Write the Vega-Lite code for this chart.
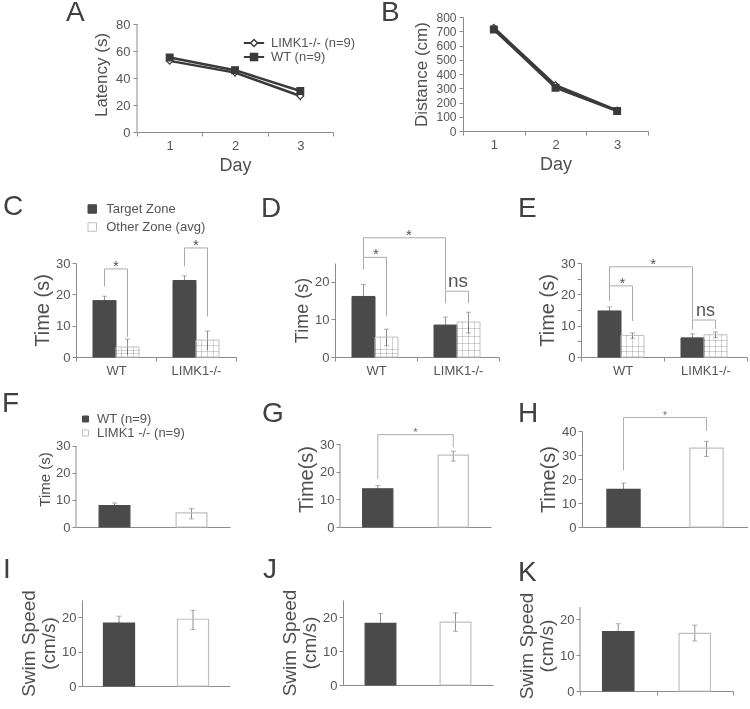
{
"$schema": "https://vega.github.io/schema/vega-lite/v6.json",
"autosize": "pad",
"padding": {"left": 2, "top": -2, "right": 0, "bottom": 0},
"background": "white",
"config": {
  "view": {"stroke": null},
  "font": "Liberation Sans",
  "axis": {"domainColor": "#8c8c8c", "tickColor": "#8c8c8c", "labelColor": "#555555", "titleColor": "#4f4f4f", "labelFontSize": 13, "titleFontWeight": "normal", "titleFontSize": 20, "grid": false, "tickSize": 4, "labelPadding": 2, "titlePadding": 3, "labelOverlap": false, "labelFont": "Liberation Sans", "titleFont": "Liberation Sans"},
  "axisX": {"labelAngle": 0, "labelPadding": 3},
  "text": {"font": "Liberation Sans"},
  "legend": {"title": null, "labelFontSize": 13, "labelColor": "#555555", "symbolStrokeColor": "#9a9a9a", "symbolStrokeWidth": 1, "symbolType": "square", "padding": 0, "labelFont": "Liberation Sans"}
},
"resolve": {"scale": {"fill": "independent", "stroke": "independent", "shape": "independent", "color": "independent"}, "legend": {"fill": "independent", "stroke": "independent", "shape": "independent", "color": "independent"}},
"spacing": 0,
"vconcat": [
  {"bounds": "flush", "spacing": 0,
   "resolve": {"scale": {"fill": "independent", "stroke": "independent", "shape": "independent", "color": "independent"}, "legend": {"fill": "independent", "stroke": "independent", "shape": "independent", "color": "independent"}},
   "hconcat": [
    {"width": 61, "height": 1, "data": {"values": []}, "mark": "point", "encoding": {}},
    {"width": 196, "height": 115,
     "data": {"values": [
       {"day": "1", "genotype": "LIMK1-/- (n=9)", "mean": 52.7, "lo": 50.5, "hi": 55.0},
       {"day": "2", "genotype": "LIMK1-/- (n=9)", "mean": 44.0, "lo": 40.5, "hi": 47.5},
       {"day": "3", "genotype": "LIMK1-/- (n=9)", "mean": 26.7, "lo": 23.0, "hi": 30.5},
       {"day": "1", "genotype": "WT (n=9)", "mean": 55.2, "lo": 53.5, "hi": 57.0},
       {"day": "2", "genotype": "WT (n=9)", "mean": 45.8, "lo": 43.5, "hi": 48.0},
       {"day": "3", "genotype": "WT (n=9)", "mean": 30.4, "lo": 28.0, "hi": 32.5}
     ]},
     "encoding": {"x": {"field": "day", "type": "ordinal", "bandPosition": 0.5, "scale": {"type": "band", "paddingInner": 0, "paddingOuter": 0}, "axis": {"title": "Day", "tickBand": "extent", "titleFontSize": 18, "titlePadding": 4}}},
     "layer": [
       {"mark": {"type": "rule", "color": "#8c8c8c"}, "encoding": {"y": {"field": "lo", "type": "quantitative", "title": "Latency (s)", "scale": {"domain": [0, 85.2], "nice": false}, "axis": {"values": [0, 20, 40, 60, 80], "tickCount": 20, "domain": false, "titleFontSize": 17, "labelPadding": 3, "titlePadding": 5}}, "y2": {"field": "hi"}, "detail": {"field": "genotype"}}},
       {"data": {"values": [{}]}, "mark": {"type": "rule", "color": "#8c8c8c"}, "encoding": {"x": {"datum": "1", "type": "ordinal", "bandPosition": 0}, "y": {"datum": 0, "type": "quantitative"}, "y2": {"datum": 80}}},
       {"mark": {"type": "line", "strokeWidth": 2.5}, "encoding": {"y": {"field": "mean", "type": "quantitative", "title": "Latency (s)"}, "detail": {"field": "genotype"},
         "color": {"field": "genotype", "scale": {"domain": ["WT (n=9)", "LIMK1-/- (n=9)"], "range": ["#3a3a3a", "#3a3a3a"]},
           "legend": {"orient": "none", "legendX": 110.5, "legendY": 19.5, "symbolType": "M-2.9,0H2.9", "symbolSize": 49, "symbolStrokeWidth": 2, "symbolStrokeColor": "#3a3a3a", "rowPadding": 0, "labelExpr": "''"}}}},
       {"mark": {"type": "point", "filled": true, "size": 45, "strokeWidth": 1.2, "opacity": 1}, "encoding": {"y": {"field": "mean", "type": "quantitative", "title": "Latency (s)"},
         "shape": {"field": "genotype", "scale": {"domain": ["LIMK1-/- (n=9)", "WT (n=9)"], "range": ["diamond", "square"]},
           "legend": {"orient": "none", "legendX": 110.5, "legendY": 19.5, "symbolSize": 49, "labelOffset": 10.5, "rowPadding": 0, "symbolStrokeWidth": 1.5}},
         "fill": {"field": "genotype", "scale": {"domain": ["LIMK1-/- (n=9)", "WT (n=9)"], "range": ["#ffffff", "#3a3a3a"]},
           "legend": {"orient": "none", "legendX": 110.5, "legendY": 19.5, "symbolSize": 49, "labelOffset": 10.5, "rowPadding": 0, "symbolStrokeWidth": 1.5}},
         "stroke": {"field": "genotype", "scale": {"domain": ["LIMK1-/- (n=9)", "WT (n=9)"], "range": ["#3a3a3a", "#3a3a3a"]},
           "legend": {"orient": "none", "legendX": 110.5, "legendY": 19.5, "symbolSize": 49, "labelOffset": 10.5, "rowPadding": 0, "symbolStrokeWidth": 1.5}}}},
       {"data": {"values": [{"panel": "A"}]}, "mark": {"type": "text", "fontSize": 28, "color": "#404040", "align": "left", "baseline": "alphabetic", "dx": -71}, "encoding": {"x": {"datum": "1", "type": "ordinal", "bandPosition": 0}, "y": {"datum": 82.24, "type": "quantitative"}, "text": {"field": "panel"}}}
     ]},
    {"width": 130, "height": 1, "data": {"values": []}, "mark": "point", "encoding": {}},
    {"width": 185, "height": 114,
     "data": {"values": [
       {"day": "1", "genotype": "LIMK1-/-", "mean": 725, "lo": 712, "hi": 738},
       {"day": "2", "genotype": "LIMK1-/-", "mean": 322, "lo": 312, "hi": 332},
       {"day": "3", "genotype": "LIMK1-/-", "mean": 145, "lo": 138, "hi": 152},
       {"day": "1", "genotype": "WT", "mean": 712, "lo": 702, "hi": 722},
       {"day": "2", "genotype": "WT", "mean": 304, "lo": 295, "hi": 313},
       {"day": "3", "genotype": "WT", "mean": 140, "lo": 134, "hi": 146}
     ]},
     "encoding": {"x": {"field": "day", "type": "ordinal", "bandPosition": 0.5, "scale": {"type": "band", "paddingInner": 0, "paddingOuter": 0}, "axis": {"title": "Day", "tickBand": "extent", "titleFontSize": 18, "titlePadding": 4}}},
     "layer": [
       {"mark": {"type": "rule", "color": "#8c8c8c"}, "encoding": {"y": {"field": "lo", "type": "quantitative", "title": "Distance (cm)", "scale": {"domain": [0, 800], "nice": false}, "axis": {"values": [0, 100, 200, 300, 400, 500, 600, 700, 800], "tickCount": 20, "labelFontSize": 12, "titleFontSize": 17, "labelPadding": 3, "titlePadding": 5}}, "y2": {"field": "hi"}, "detail": {"field": "genotype"}}},
       {"mark": {"type": "line", "color": "#3a3a3a", "strokeWidth": 2.5}, "encoding": {"y": {"field": "mean", "type": "quantitative", "title": "Distance (cm)"}, "detail": {"field": "genotype"}}},
       {"mark": {"type": "point", "filled": true, "size": 45, "stroke": "#3a3a3a", "strokeWidth": 1.2, "opacity": 1}, "encoding": {"y": {"field": "mean", "type": "quantitative", "title": "Distance (cm)"},
         "shape": {"field": "genotype", "scale": {"domain": ["LIMK1-/-", "WT"], "range": ["diamond", "square"]}, "legend": null},
         "fill": {"field": "genotype", "scale": {"domain": ["LIMK1-/-", "WT"], "range": ["#ffffff", "#3a3a3a"]}, "legend": null}}},
       {"data": {"values": [{"panel": "B"}]}, "mark": {"type": "text", "fontSize": 28, "color": "#404040", "align": "left", "baseline": "alphabetic", "dx": -82}, "encoding": {"x": {"datum": "1", "type": "ordinal", "bandPosition": 0}, "y": {"datum": 771.9, "type": "quantitative"}, "text": {"field": "panel"}}}
     ]}
  ]},
  {"width": 1, "height": 18, "view": {"fill": "#ffffff", "stroke": null}, "data": {"values": []}, "mark": "point", "encoding": {}},
  {"bounds": "flush", "spacing": 0,
   "resolve": {"scale": {"fill": "independent", "stroke": "independent", "shape": "independent", "color": "independent"}, "legend": {"fill": "independent", "stroke": "independent", "shape": "independent", "color": "independent"}},
   "hconcat": [
    {"width": 160, "height": 94,
     "data": {"values": [
       {"grp": "WT", "zone": "Target Zone", "mean": 18.0, "lo": 16.6, "hi": 19.4},
       {"grp": "WT", "zone": "Other Zone (avg)", "mean": 3.2, "lo": 0.6, "hi": 5.7},
       {"grp": "LIMK1-/-", "zone": "Target Zone", "mean": 24.4, "lo": 23.0, "hi": 25.9},
       {"grp": "LIMK1-/-", "zone": "Other Zone (avg)", "mean": 5.4, "lo": 2.2, "hi": 8.3}
     ]},
     "encoding": {"x": {"field": "grp", "type": "nominal", "sort": ["WT", "LIMK1-/-"], "scale": {"paddingInner": 0, "paddingOuter": 0}, "axis": {"title": null, "tickBand": "extent"}}},
     "layer": [
       {"mark": {"type": "rule", "color": "#909090"}, "encoding": {"xOffset": {"field": "zone", "sort": ["Target Zone", "Other Zone (avg)"], "scale": {"paddingInner": 0, "paddingOuter": 0.739}}, "y": {"field": "lo", "type": "quantitative", "title": "Time (s)", "scale": {"domain": [0, 30], "nice": false}, "axis": {"values": [0, 10, 20, 30], "tickCount": 20}}, "y2": {"field": "hi"}}},
       {"mark": {"type": "tick", "size": 5, "thickness": 1, "color": "#909090"}, "encoding": {"xOffset": {"field": "zone", "sort": ["Target Zone", "Other Zone (avg)"]}, "y": {"field": "hi", "type": "quantitative", "title": "Time (s)"}}},
       {"mark": {"type": "bar", "strokeWidth": 1}, "encoding": {"xOffset": {"field": "zone", "sort": ["Target Zone", "Other Zone (avg)"]}, "y": {"field": "mean", "type": "quantitative", "title": "Time (s)"},
         "fill": {"field": "zone", "scale": {"domain": ["Target Zone", "Other Zone (avg)"], "range": ["#4a4a4a", "transparent"]}, "legend": {"orient": "none", "legendX": 9.75, "legendY": -60.5, "symbolSize": 72, "labelOffset": 7.5, "rowPadding": 4}},
         "stroke": {"field": "zone", "scale": {"domain": ["Target Zone", "Other Zone (avg)"], "range": ["#4a4a4a", "#c0c0c0"]}, "legend": null}}},
       {"transform": [{"filter": "datum.zone === 'Other Zone (avg)'"}], "mark": {"type": "bar", "blend": "multiply", "fill": {"gradient": "linear", "x1": 0, "y1": 0, "x2": 1, "y2": 0, "stops": [{"offset": 0, "color": "#ffffff"}, {"offset": 0.23, "color": "#ffffff"}, {"offset": 0.23, "color": "#d4d4d4"}, {"offset": 0.27, "color": "#d4d4d4"}, {"offset": 0.27, "color": "#ffffff"}, {"offset": 0.48, "color": "#ffffff"}, {"offset": 0.48, "color": "#d4d4d4"}, {"offset": 0.52, "color": "#d4d4d4"}, {"offset": 0.52, "color": "#ffffff"}, {"offset": 0.73, "color": "#ffffff"}, {"offset": 0.73, "color": "#d4d4d4"}, {"offset": 0.77, "color": "#d4d4d4"}, {"offset": 0.77, "color": "#ffffff"}, {"offset": 1, "color": "#ffffff"}]}}, "encoding": {"xOffset": {"field": "zone", "sort": ["Target Zone", "Other Zone (avg)"]}, "y": {"field": "mean", "type": "quantitative", "title": "Time (s)"}}},
       {"transform": [{"filter": "datum.zone === 'Other Zone (avg)'"}], "mark": {"type": "bar", "blend": "multiply", "fill": {"gradient": "linear", "x1": 0, "y1": 0, "x2": 0, "y2": 1, "stops": [{"offset": 0, "color": "#ffffff"}, {"offset": 0.31, "color": "#ffffff"}, {"offset": 0.31, "color": "#d4d4d4"}, {"offset": 0.36, "color": "#d4d4d4"}, {"offset": 0.36, "color": "#ffffff"}, {"offset": 0.64, "color": "#ffffff"}, {"offset": 0.64, "color": "#d4d4d4"}, {"offset": 0.69, "color": "#d4d4d4"}, {"offset": 0.69, "color": "#ffffff"}, {"offset": 1, "color": "#ffffff"}]}}, "encoding": {"xOffset": {"field": "zone", "sort": ["Target Zone", "Other Zone (avg)"]}, "y": {"field": "mean", "type": "quantitative", "title": "Time (s)"}}},
       {"data": {"values": [
         {"br": "c1", "grp": "WT", "zone": "Target Zone", "y": 22.5, "ord": 1},
         {"br": "c1", "grp": "WT", "zone": "Target Zone", "y": 28.1, "ord": 2},
         {"br": "c1", "grp": "WT", "zone": "Other Zone (avg)", "y": 28.1, "ord": 3},
         {"br": "c1", "grp": "WT", "zone": "Other Zone (avg)", "y": 6.4, "ord": 4},
         {"br": "c2", "grp": "LIMK1-/-", "zone": "Target Zone", "y": 28.9, "ord": 1},
         {"br": "c2", "grp": "LIMK1-/-", "zone": "Target Zone", "y": 34.8, "ord": 2},
         {"br": "c2", "grp": "LIMK1-/-", "zone": "Other Zone (avg)", "y": 34.8, "ord": 3},
         {"br": "c2", "grp": "LIMK1-/-", "zone": "Other Zone (avg)", "y": 12.9, "ord": 4}
       ]}, "mark": {"type": "line", "color": "#ababab", "strokeWidth": 1}, "encoding": {"xOffset": {"field": "zone", "sort": ["Target Zone", "Other Zone (avg)"]}, "y": {"field": "y", "type": "quantitative", "title": "Time (s)"}, "detail": {"field": "br"}, "order": {"field": "ord"}}},
       {"data": {"values": [{"grp": "WT", "y": 28.1, "label": "*"}, {"grp": "LIMK1-/-", "y": 34.8, "label": "*"}]},
        "mark": {"type": "text", "baseline": "alphabetic", "fontSize": 15, "color": "#555555", "dy": 2}, "encoding": {"y": {"field": "y", "type": "quantitative", "title": "Time (s)"}, "text": {"field": "label"}}},
       {"data": {"values": [{"panel": "C"}]}, "mark": {"type": "text", "fontSize": 28, "color": "#404040", "align": "left", "baseline": "alphabetic", "dx": -73}, "encoding": {"x": {"datum": "WT", "type": "nominal", "bandPosition": 0}, "y": {"datum": 45.32, "type": "quantitative"}, "text": {"field": "panel"}}}
     ]},
    {"width": 99, "height": 1, "data": {"values": []}, "mark": "point", "encoding": {}},
    {"width": 164, "height": 94,
     "data": {"values": [
       {"grp": "WT", "zone": "Target Zone", "mean": 16.1, "lo": 12.9, "hi": 19.3},
       {"grp": "WT", "zone": "Other Zone (avg)", "mean": 5.3, "lo": 3.0, "hi": 7.4},
       {"grp": "LIMK1-/-", "zone": "Target Zone", "mean": 8.5, "lo": 6.4, "hi": 10.6},
       {"grp": "LIMK1-/-", "zone": "Other Zone (avg)", "mean": 9.3, "lo": 6.4, "hi": 11.9}
     ]},
     "encoding": {"x": {"field": "grp", "type": "nominal", "sort": ["WT", "LIMK1-/-"], "scale": {"paddingInner": 0, "paddingOuter": 0}, "axis": {"title": null, "tickBand": "extent"}}},
     "layer": [
       {"mark": {"type": "rule", "color": "#909090"}, "encoding": {"xOffset": {"field": "zone", "sort": ["Target Zone", "Other Zone (avg)"], "scale": {"paddingInner": 0, "paddingOuter": 0.783}}, "y": {"field": "lo", "type": "quantitative", "title": "Time (s)", "scale": {"domain": [0, 25], "nice": false}, "axis": {"values": [0, 10, 20], "tickCount": 20, "titleFontSize": 18}}, "y2": {"field": "hi"}}},
       {"mark": {"type": "tick", "size": 5, "thickness": 1, "color": "#909090"}, "encoding": {"xOffset": {"field": "zone", "sort": ["Target Zone", "Other Zone (avg)"]}, "y": {"field": "hi", "type": "quantitative", "title": "Time (s)"}}},
       {"mark": {"type": "tick", "size": 5, "thickness": 1, "color": "#909090"}, "encoding": {"xOffset": {"field": "zone", "sort": ["Target Zone", "Other Zone (avg)"]}, "y": {"field": "lo", "type": "quantitative", "title": "Time (s)"}}},
       {"mark": {"type": "bar", "strokeWidth": 1}, "encoding": {"xOffset": {"field": "zone", "sort": ["Target Zone", "Other Zone (avg)"]}, "y": {"field": "mean", "type": "quantitative", "title": "Time (s)"},
         "fill": {"field": "zone", "scale": {"domain": ["Target Zone", "Other Zone (avg)"], "range": ["#4a4a4a", "transparent"]}, "legend": null},
         "stroke": {"field": "zone", "scale": {"domain": ["Target Zone", "Other Zone (avg)"], "range": ["#4a4a4a", "#c0c0c0"]}, "legend": null}}},
       {"transform": [{"filter": "datum.zone === 'Other Zone (avg)'"}], "mark": {"type": "bar", "blend": "multiply", "fill": {"gradient": "linear", "x1": 0, "y1": 0, "x2": 1, "y2": 0, "stops": [{"offset": 0, "color": "#ffffff"}, {"offset": 0.23, "color": "#ffffff"}, {"offset": 0.23, "color": "#d4d4d4"}, {"offset": 0.27, "color": "#d4d4d4"}, {"offset": 0.27, "color": "#ffffff"}, {"offset": 0.48, "color": "#ffffff"}, {"offset": 0.48, "color": "#d4d4d4"}, {"offset": 0.52, "color": "#d4d4d4"}, {"offset": 0.52, "color": "#ffffff"}, {"offset": 0.73, "color": "#ffffff"}, {"offset": 0.73, "color": "#d4d4d4"}, {"offset": 0.77, "color": "#d4d4d4"}, {"offset": 0.77, "color": "#ffffff"}, {"offset": 1, "color": "#ffffff"}]}}, "encoding": {"xOffset": {"field": "zone", "sort": ["Target Zone", "Other Zone (avg)"]}, "y": {"field": "mean", "type": "quantitative", "title": "Time (s)"}}},
       {"transform": [{"filter": "datum.zone === 'Other Zone (avg)'"}], "mark": {"type": "bar", "blend": "multiply", "fill": {"gradient": "linear", "x1": 0, "y1": 0, "x2": 0, "y2": 1, "stops": [{"offset": 0, "color": "#ffffff"}, {"offset": 0.18, "color": "#ffffff"}, {"offset": 0.18, "color": "#d4d4d4"}, {"offset": 0.21, "color": "#d4d4d4"}, {"offset": 0.21, "color": "#ffffff"}, {"offset": 0.39, "color": "#ffffff"}, {"offset": 0.39, "color": "#d4d4d4"}, {"offset": 0.42, "color": "#d4d4d4"}, {"offset": 0.42, "color": "#ffffff"}, {"offset": 0.6, "color": "#ffffff"}, {"offset": 0.6, "color": "#d4d4d4"}, {"offset": 0.63, "color": "#d4d4d4"}, {"offset": 0.63, "color": "#ffffff"}, {"offset": 0.81, "color": "#ffffff"}, {"offset": 0.81, "color": "#d4d4d4"}, {"offset": 0.84, "color": "#d4d4d4"}, {"offset": 0.84, "color": "#ffffff"}, {"offset": 1, "color": "#ffffff"}]}}, "encoding": {"xOffset": {"field": "zone", "sort": ["Target Zone", "Other Zone (avg)"]}, "y": {"field": "mean", "type": "quantitative", "title": "Time (s)"}}},
       {"data": {"values": [
         {"br": "d1", "grp": "WT", "zone": "Target Zone", "y": 23.3, "ord": 1},
         {"br": "d1", "grp": "WT", "zone": "Target Zone", "y": 26.5, "ord": 2},
         {"br": "d1", "grp": "WT", "zone": "Other Zone (avg)", "y": 26.5, "ord": 3},
         {"br": "d1", "grp": "WT", "zone": "Other Zone (avg)", "y": 10.8, "ord": 4},
         {"br": "d2", "grp": "WT", "zone": "Target Zone", "y": 26.5, "ord": 1},
         {"br": "d2", "grp": "WT", "zone": "Target Zone", "y": 31.7, "ord": 2},
         {"br": "d2", "grp": "LIMK1-/-", "zone": "Target Zone", "y": 31.7, "ord": 3},
         {"br": "d2", "grp": "LIMK1-/-", "zone": "Target Zone", "y": 17.7, "ord": 4},
         {"br": "d3", "grp": "LIMK1-/-", "zone": "Target Zone", "y": 14.3, "ord": 1},
         {"br": "d3", "grp": "LIMK1-/-", "zone": "Target Zone", "y": 17.5, "ord": 2},
         {"br": "d3", "grp": "LIMK1-/-", "zone": "Other Zone (avg)", "y": 17.5, "ord": 3},
         {"br": "d3", "grp": "LIMK1-/-", "zone": "Other Zone (avg)", "y": 14.3, "ord": 4}
       ]}, "mark": {"type": "line", "color": "#ababab", "strokeWidth": 1}, "encoding": {"xOffset": {"field": "zone", "sort": ["Target Zone", "Other Zone (avg)"]}, "y": {"field": "y", "type": "quantitative", "title": "Time (s)"}, "detail": {"field": "br"}, "order": {"field": "ord"}}},
       {"data": {"values": [{"grp": "WT", "y": 26.5, "label": "*"}]},
        "mark": {"type": "text", "baseline": "alphabetic", "fontSize": 15, "color": "#555555", "dy": 2}, "encoding": {"y": {"field": "y", "type": "quantitative", "title": "Time (s)"}, "text": {"field": "label"}}},
       {"data": {"values": [{"grp": "WT", "y": 31.7, "label": "*"}]},
        "mark": {"type": "text", "baseline": "alphabetic", "fontSize": 15, "color": "#555555", "dy": 2}, "encoding": {"x": {"field": "grp", "type": "nominal", "bandPosition": 0.9}, "y": {"field": "y", "type": "quantitative", "title": "Time (s)"}, "text": {"field": "label"}}},
       {"data": {"values": [{"grp": "LIMK1-/-", "y": 17.5, "label": "ns"}]},
        "mark": {"type": "text", "baseline": "alphabetic", "fontSize": 19, "color": "#555555", "dy": -4}, "encoding": {"y": {"field": "y", "type": "quantitative", "title": "Time (s)"}, "text": {"field": "label"}}},
       {"data": {"values": [{"panel": "D"}]}, "mark": {"type": "text", "fontSize": 28, "color": "#404040", "align": "left", "baseline": "alphabetic", "dx": -74}, "encoding": {"x": {"datum": "WT", "type": "nominal", "bandPosition": 0}, "y": {"datum": 37.23, "type": "quantitative"}, "text": {"field": "panel"}}}
     ]},
    {"width": 82, "height": 1, "data": {"values": []}, "mark": "point", "encoding": {}},
    {"width": 166, "height": 94,
     "data": {"values": [
       {"grp": "WT", "zone": "Target Zone", "mean": 14.7, "lo": 13.4, "hi": 16.0},
       {"grp": "WT", "zone": "Other Zone (avg)", "mean": 6.9, "lo": 6.0, "hi": 7.7},
       {"grp": "LIMK1-/-", "zone": "Target Zone", "mean": 6.1, "lo": 4.8, "hi": 7.4},
       {"grp": "LIMK1-/-", "zone": "Other Zone (avg)", "mean": 7.1, "lo": 6.2, "hi": 8.0}
     ]},
     "encoding": {"x": {"field": "grp", "type": "nominal", "sort": ["WT", "LIMK1-/-"], "scale": {"paddingInner": 0, "paddingOuter": 0}, "axis": {"title": null, "tickBand": "extent"}}},
     "layer": [
       {"mark": {"type": "rule", "color": "#909090"}, "encoding": {"xOffset": {"field": "zone", "sort": ["Target Zone", "Other Zone (avg)"], "scale": {"paddingInner": 0, "paddingOuter": 0.729}}, "y": {"field": "lo", "type": "quantitative", "title": "Time (s)", "scale": {"domain": [0, 30], "nice": false}, "axis": {"values": [0, 5, 10, 15, 20, 25, 30], "tickCount": 20, "labelExpr": "datum.value % 10 === 0 ? datum.label : ''"}}, "y2": {"field": "hi"}}},
       {"mark": {"type": "tick", "size": 5, "thickness": 1, "color": "#909090"}, "encoding": {"xOffset": {"field": "zone", "sort": ["Target Zone", "Other Zone (avg)"]}, "y": {"field": "hi", "type": "quantitative", "title": "Time (s)"}}},
       {"mark": {"type": "tick", "size": 5, "thickness": 1, "color": "#909090"}, "encoding": {"xOffset": {"field": "zone", "sort": ["Target Zone", "Other Zone (avg)"]}, "y": {"field": "lo", "type": "quantitative", "title": "Time (s)"}}},
       {"mark": {"type": "bar", "strokeWidth": 1}, "encoding": {"xOffset": {"field": "zone", "sort": ["Target Zone", "Other Zone (avg)"]}, "y": {"field": "mean", "type": "quantitative", "title": "Time (s)"},
         "fill": {"field": "zone", "scale": {"domain": ["Target Zone", "Other Zone (avg)"], "range": ["#4a4a4a", "transparent"]}, "legend": null},
         "stroke": {"field": "zone", "scale": {"domain": ["Target Zone", "Other Zone (avg)"], "range": ["#4a4a4a", "#c0c0c0"]}, "legend": null}}},
       {"transform": [{"filter": "datum.zone === 'Other Zone (avg)'"}], "mark": {"type": "bar", "blend": "multiply", "fill": {"gradient": "linear", "x1": 0, "y1": 0, "x2": 1, "y2": 0, "stops": [{"offset": 0, "color": "#ffffff"}, {"offset": 0.23, "color": "#ffffff"}, {"offset": 0.23, "color": "#d4d4d4"}, {"offset": 0.27, "color": "#d4d4d4"}, {"offset": 0.27, "color": "#ffffff"}, {"offset": 0.48, "color": "#ffffff"}, {"offset": 0.48, "color": "#d4d4d4"}, {"offset": 0.52, "color": "#d4d4d4"}, {"offset": 0.52, "color": "#ffffff"}, {"offset": 0.73, "color": "#ffffff"}, {"offset": 0.73, "color": "#d4d4d4"}, {"offset": 0.77, "color": "#d4d4d4"}, {"offset": 0.77, "color": "#ffffff"}, {"offset": 1, "color": "#ffffff"}]}}, "encoding": {"xOffset": {"field": "zone", "sort": ["Target Zone", "Other Zone (avg)"]}, "y": {"field": "mean", "type": "quantitative", "title": "Time (s)"}}},
       {"transform": [{"filter": "datum.zone === 'Other Zone (avg)'"}], "mark": {"type": "bar", "blend": "multiply", "fill": {"gradient": "linear", "x1": 0, "y1": 0, "x2": 0, "y2": 1, "stops": [{"offset": 0, "color": "#ffffff"}, {"offset": 0.24, "color": "#ffffff"}, {"offset": 0.24, "color": "#d4d4d4"}, {"offset": 0.28, "color": "#d4d4d4"}, {"offset": 0.28, "color": "#ffffff"}, {"offset": 0.49, "color": "#ffffff"}, {"offset": 0.49, "color": "#d4d4d4"}, {"offset": 0.53, "color": "#d4d4d4"}, {"offset": 0.53, "color": "#ffffff"}, {"offset": 0.74, "color": "#ffffff"}, {"offset": 0.74, "color": "#d4d4d4"}, {"offset": 0.78, "color": "#d4d4d4"}, {"offset": 0.78, "color": "#ffffff"}, {"offset": 1, "color": "#ffffff"}]}}, "encoding": {"xOffset": {"field": "zone", "sort": ["Target Zone", "Other Zone (avg)"]}, "y": {"field": "mean", "type": "quantitative", "title": "Time (s)"}}},
       {"data": {"values": [
         {"br": "e1", "grp": "WT", "zone": "Target Zone", "y": 17.9, "ord": 1},
         {"br": "e1", "grp": "WT", "zone": "Target Zone", "y": 22.7, "ord": 2},
         {"br": "e1", "grp": "WT", "zone": "Other Zone (avg)", "y": 22.7, "ord": 3},
         {"br": "e1", "grp": "WT", "zone": "Other Zone (avg)", "y": 11.5, "ord": 4},
         {"br": "e2", "grp": "WT", "zone": "Target Zone", "y": 22.7, "ord": 1},
         {"br": "e2", "grp": "WT", "zone": "Target Zone", "y": 28.8, "ord": 2},
         {"br": "e2", "grp": "LIMK1-/-", "zone": "Target Zone", "y": 28.8, "ord": 3},
         {"br": "e2", "grp": "LIMK1-/-", "zone": "Target Zone", "y": 12.0, "ord": 4},
         {"br": "e3", "grp": "LIMK1-/-", "zone": "Target Zone", "y": 8.8, "ord": 1},
         {"br": "e3", "grp": "LIMK1-/-", "zone": "Target Zone", "y": 11.8, "ord": 2},
         {"br": "e3", "grp": "LIMK1-/-", "zone": "Other Zone (avg)", "y": 11.8, "ord": 3},
         {"br": "e3", "grp": "LIMK1-/-", "zone": "Other Zone (avg)", "y": 9.0, "ord": 4}
       ]}, "mark": {"type": "line", "color": "#ababab", "strokeWidth": 1}, "encoding": {"xOffset": {"field": "zone", "sort": ["Target Zone", "Other Zone (avg)"]}, "y": {"field": "y", "type": "quantitative", "title": "Time (s)"}, "detail": {"field": "br"}, "order": {"field": "ord"}}},
       {"data": {"values": [{"grp": "WT", "y": 22.7, "label": "*"}]},
        "mark": {"type": "text", "baseline": "alphabetic", "fontSize": 15, "color": "#555555", "dy": 2}, "encoding": {"y": {"field": "y", "type": "quantitative", "title": "Time (s)"}, "text": {"field": "label"}}},
       {"data": {"values": [{"grp": "WT", "y": 28.8, "label": "*"}]},
        "mark": {"type": "text", "baseline": "alphabetic", "fontSize": 15, "color": "#555555", "dy": 2}, "encoding": {"x": {"field": "grp", "type": "nominal", "bandPosition": 0.87}, "y": {"field": "y", "type": "quantitative", "title": "Time (s)"}, "text": {"field": "label"}}},
       {"data": {"values": [{"grp": "LIMK1-/-", "y": 11.8, "label": "ns"}]},
        "mark": {"type": "text", "baseline": "alphabetic", "fontSize": 18, "color": "#555555", "dy": -4}, "encoding": {"y": {"field": "y", "type": "quantitative", "title": "Time (s)"}, "text": {"field": "label"}}},
       {"data": {"values": [{"panel": "E"}]}, "mark": {"type": "text", "fontSize": 28, "color": "#404040", "align": "left", "baseline": "alphabetic", "dx": -63}, "encoding": {"x": {"datum": "WT", "type": "nominal", "bandPosition": 0}, "y": {"datum": 44.68, "type": "quantitative"}, "text": {"field": "panel"}}}
     ]}
  ]},
  {"width": 1, "height": 12, "view": {"fill": "#ffffff", "stroke": null}, "data": {"values": []}, "mark": "point", "encoding": {}},
  {"bounds": "flush", "spacing": 0,
   "resolve": {"scale": {"fill": "independent", "stroke": "independent", "shape": "independent", "color": "independent"}, "legend": {"fill": "independent", "stroke": "independent", "shape": "independent", "color": "independent"}},
   "hconcat": [
    {"width": 154, "height": 96,
     "data": {"values": [
       {"genotype": "WT (n=9)", "mean": 7.9, "lo": 6.9, "hi": 8.9},
       {"genotype": "LIMK1 -/- (n=9)", "mean": 5.2, "lo": 3.0, "hi": 6.8}
     ]},
     "encoding": {"x": {"field": "genotype", "type": "nominal", "sort": ["WT (n=9)", "LIMK1 -/- (n=9)"], "scale": {"paddingInner": 0, "paddingOuter": 0}, "axis": {"title": null, "labels": false, "ticks": false}}},
     "layer": [
       {"mark": {"type": "rule", "color": "#909090"}, "encoding": {"y": {"field": "lo", "type": "quantitative", "title": "Time (s)", "scale": {"domain": [0, 35.5], "nice": false}, "axis": {"values": [0, 10, 20, 30], "tickCount": 20, "domain": false, "titleFontSize": 15}}, "y2": {"field": "hi"}}},
       {"data": {"values": [{}]}, "mark": {"type": "rule", "color": "#8c8c8c"}, "encoding": {"x": {"datum": "WT (n=9)", "type": "nominal", "bandPosition": 0}, "y": {"datum": 0, "type": "quantitative"}, "y2": {"datum": 30}}},
       {"mark": {"type": "tick", "size": 5, "thickness": 1, "color": "#909090"}, "encoding": {"y": {"field": "hi", "type": "quantitative", "title": "Time (s)"}}},
       {"mark": {"type": "tick", "size": 5, "thickness": 1, "color": "#909090"}, "encoding": {"y": {"field": "lo", "type": "quantitative", "title": "Time (s)"}}},
       {"mark": {"type": "bar", "strokeWidth": 1.2, "width": {"band": 0.4}}, "encoding": {"y": {"field": "mean", "type": "quantitative", "title": "Time (s)"},
         "fill": {"field": "genotype", "scale": {"domain": ["WT (n=9)", "LIMK1 -/- (n=9)"], "range": ["#4a4a4a", "transparent"]}, "legend": {"orient": "none", "legendX": 3, "legendY": -18.5, "symbolSize": 36, "labelOffset": 5, "rowPadding": 0}},
         "stroke": {"field": "genotype", "scale": {"domain": ["WT (n=9)", "LIMK1 -/- (n=9)"], "range": ["#4a4a4a", "#c0c0c0"]}, "legend": null}}},
       {"data": {"values": [{"panel": "F"}]}, "mark": {"type": "text", "fontSize": 28, "color": "#404040", "align": "left", "baseline": "alphabetic", "dx": -74}, "encoding": {"x": {"datum": "WT (n=9)", "type": "nominal", "bandPosition": 0}, "y": {"datum": 42.53, "type": "quantitative"}, "text": {"field": "panel"}}}
     ]},
    {"width": 110, "height": 1, "data": {"values": []}, "mark": "point", "encoding": {}},
    {"width": 151, "height": 96,
     "data": {"values": [
       {"genotype": "WT", "mean": 13.8, "lo": 12.6, "hi": 15.0},
       {"genotype": "LIMK1-/-", "mean": 26.0, "lo": 23.8, "hi": 27.4}
     ]},
     "encoding": {"x": {"field": "genotype", "type": "nominal", "sort": ["WT", "LIMK1-/-"], "scale": {"paddingInner": 0, "paddingOuter": 0}, "axis": {"title": null, "labels": false, "ticks": false}}},
     "layer": [
       {"mark": {"type": "rule", "color": "#909090"}, "encoding": {"y": {"field": "lo", "type": "quantitative", "title": "Time(s)", "scale": {"domain": [0, 34.7], "nice": false}, "axis": {"values": [0, 10, 20, 30], "tickCount": 20, "domain": false}}, "y2": {"field": "hi"}}},
       {"data": {"values": [{}]}, "mark": {"type": "rule", "color": "#8c8c8c"}, "encoding": {"x": {"datum": "WT", "type": "nominal", "bandPosition": 0}, "y": {"datum": 0, "type": "quantitative"}, "y2": {"datum": 30}}},
       {"mark": {"type": "tick", "size": 5, "thickness": 1, "color": "#909090"}, "encoding": {"y": {"field": "hi", "type": "quantitative", "title": "Time(s)"}}},
       {"mark": {"type": "tick", "size": 5, "thickness": 1, "color": "#909090"}, "encoding": {"y": {"field": "lo", "type": "quantitative", "title": "Time(s)"}}},
       {"mark": {"type": "bar", "strokeWidth": 1.2, "width": {"band": 0.4}}, "encoding": {"y": {"field": "mean", "type": "quantitative", "title": "Time(s)"},
         "fill": {"field": "genotype", "scale": {"domain": ["WT", "LIMK1-/-"], "range": ["#4a4a4a", "transparent"]}, "legend": null},
         "stroke": {"field": "genotype", "scale": {"domain": ["WT", "LIMK1-/-"], "range": ["#4a4a4a", "#c0c0c0"]}, "legend": null}}},
       {"data": {"values": [
         {"br": "g1", "genotype": "WT", "y": 17.4, "ord": 1},
         {"br": "g1", "genotype": "WT", "y": 33.4, "ord": 2},
         {"br": "g1", "genotype": "LIMK1-/-", "y": 33.4, "ord": 3},
         {"br": "g1", "genotype": "LIMK1-/-", "y": 28.8, "ord": 4}
       ]}, "mark": {"type": "line", "color": "#b0b0b0", "strokeWidth": 1}, "encoding": {"y": {"field": "y", "type": "quantitative", "title": "Time(s)"}, "detail": {"field": "br"}, "order": {"field": "ord"}}},
       {"data": {"values": [{"genotype": "WT", "y": 33.4, "label": "*"}]},
        "mark": {"type": "text", "baseline": "alphabetic", "fontSize": 10, "color": "#666666", "dy": 1}, "encoding": {"x": {"field": "genotype", "type": "nominal", "bandPosition": 1}, "y": {"field": "y", "type": "quantitative", "title": "Time(s)"}, "text": {"field": "label"}}},
       {"data": {"values": [{"panel": "G"}]}, "mark": {"type": "text", "fontSize": 28, "color": "#404040", "align": "left", "baseline": "alphabetic", "dx": -78}, "encoding": {"x": {"datum": "WT", "type": "nominal", "bandPosition": 0}, "y": {"datum": 37.95, "type": "quantitative"}, "text": {"field": "panel"}}}
     ]},
    {"width": 91, "height": 1, "data": {"values": []}, "mark": "point", "encoding": {}},
    {"width": 166, "height": 96,
     "data": {"values": [
       {"genotype": "WT", "mean": 15.7, "lo": 13.1, "hi": 18.3},
       {"genotype": "LIMK1-/-", "mean": 32.9, "lo": 29.4, "hi": 35.7}
     ]},
     "encoding": {"x": {"field": "genotype", "type": "nominal", "sort": ["WT", "LIMK1-/-"], "scale": {"paddingInner": 0, "paddingOuter": 0}, "axis": {"title": null, "labels": false, "ticks": false}}},
     "layer": [
       {"mark": {"type": "rule", "color": "#909090"}, "encoding": {"y": {"field": "lo", "type": "quantitative", "title": "Time(s)", "scale": {"domain": [0, 40], "nice": false}, "axis": {"values": [0, 10, 20, 30, 40], "tickCount": 20}}, "y2": {"field": "hi"}}},
       {"mark": {"type": "tick", "size": 5, "thickness": 1, "color": "#909090"}, "encoding": {"y": {"field": "hi", "type": "quantitative", "title": "Time(s)"}}},
       {"mark": {"type": "tick", "size": 5, "thickness": 1, "color": "#909090"}, "encoding": {"y": {"field": "lo", "type": "quantitative", "title": "Time(s)"}}},
       {"mark": {"type": "bar", "strokeWidth": 1.2, "width": {"band": 0.4}}, "encoding": {"y": {"field": "mean", "type": "quantitative", "title": "Time(s)"},
         "fill": {"field": "genotype", "scale": {"domain": ["WT", "LIMK1-/-"], "range": ["#4a4a4a", "transparent"]}, "legend": null},
         "stroke": {"field": "genotype", "scale": {"domain": ["WT", "LIMK1-/-"], "range": ["#4a4a4a", "#c0c0c0"]}, "legend": null}}},
       {"data": {"values": [
         {"br": "h1", "genotype": "WT", "y": 23.6, "ord": 1},
         {"br": "h1", "genotype": "WT", "y": 45.6, "ord": 2},
         {"br": "h1", "genotype": "LIMK1-/-", "y": 45.6, "ord": 3},
         {"br": "h1", "genotype": "LIMK1-/-", "y": 40.0, "ord": 4}
       ]}, "mark": {"type": "line", "color": "#b0b0b0", "strokeWidth": 1}, "encoding": {"y": {"field": "y", "type": "quantitative", "title": "Time(s)"}, "detail": {"field": "br"}, "order": {"field": "ord"}}},
       {"data": {"values": [{"genotype": "WT", "y": 45.6, "label": "*"}]},
        "mark": {"type": "text", "baseline": "alphabetic", "fontSize": 10, "color": "#666666", "dy": 1}, "encoding": {"x": {"field": "genotype", "type": "nominal", "bandPosition": 1}, "y": {"field": "y", "type": "quantitative", "title": "Time(s)"}, "text": {"field": "label"}}},
       {"data": {"values": [{"panel": "H"}]}, "mark": {"type": "text", "fontSize": 28, "color": "#404040", "align": "left", "baseline": "alphabetic", "dx": -64}, "encoding": {"x": {"datum": "WT", "type": "nominal", "bandPosition": 0}, "y": {"datum": 43.75, "type": "quantitative"}, "text": {"field": "panel"}}}
     ]}
  ]},
  {"width": 1, "height": 21, "view": {"fill": "#ffffff", "stroke": null}, "data": {"values": []}, "mark": "point", "encoding": {}},
  {"bounds": "flush", "spacing": 0,
   "resolve": {"scale": {"fill": "independent", "stroke": "independent", "shape": "independent", "color": "independent"}, "legend": {"fill": "independent", "stroke": "independent", "shape": "independent", "color": "independent"}},
   "hconcat": [
    {"width": 6, "height": 1, "data": {"values": []}, "mark": "point", "encoding": {}},
    {"width": 148, "height": 86,
     "data": {"values": [
       {"genotype": "WT", "mean": 18.3, "lo": 16.3, "hi": 20.3},
       {"genotype": "LIMK1-/-", "mean": 19.4, "lo": 16.4, "hi": 22.0}
     ]},
     "encoding": {"x": {"field": "genotype", "type": "nominal", "sort": ["WT", "LIMK1-/-"], "scale": {"paddingInner": 0, "paddingOuter": 0}, "axis": {"title": null, "labels": false, "ticks": false}}},
     "layer": [
       {"mark": {"type": "rule", "color": "#909090"}, "encoding": {"y": {"field": "lo", "type": "quantitative", "title": ["Swim Speed", "(cm/s)"], "scale": {"domain": [0, 25], "nice": false}, "axis": {"values": [0, 10, 20], "tickCount": 20, "titleFontSize": 19, "titleLineHeight": 20}}, "y2": {"field": "hi"}}},
       {"mark": {"type": "tick", "size": 5, "thickness": 1, "color": "#909090"}, "encoding": {"y": {"field": "hi", "type": "quantitative", "title": ["Swim Speed", "(cm/s)"]}}},
       {"mark": {"type": "tick", "size": 5, "thickness": 1, "color": "#909090"}, "encoding": {"y": {"field": "lo", "type": "quantitative", "title": ["Swim Speed", "(cm/s)"]}}},
       {"mark": {"type": "bar", "strokeWidth": 1.2, "width": {"band": 0.42}}, "encoding": {"y": {"field": "mean", "type": "quantitative", "title": ["Swim Speed", "(cm/s)"]},
         "fill": {"field": "genotype", "scale": {"domain": ["WT", "LIMK1-/-"], "range": ["#4a4a4a", "transparent"]}, "legend": null},
         "stroke": {"field": "genotype", "scale": {"domain": ["WT", "LIMK1-/-"], "range": ["#4a4a4a", "#c0c0c0"]}, "legend": null}}},
       {"data": {"values": [{"panel": "I"}]}, "mark": {"type": "text", "fontSize": 28, "color": "#404040", "align": "left", "baseline": "alphabetic", "dx": -79}, "encoding": {"x": {"datum": "WT", "type": "nominal", "bandPosition": 0}, "y": {"datum": 31.4, "type": "quantitative"}, "text": {"field": "panel"}}}
     ]},
    {"width": 113, "height": 1, "data": {"values": []}, "mark": "point", "encoding": {}},
    {"width": 150, "height": 85,
     "data": {"values": [
       {"genotype": "WT", "mean": 18.1, "lo": 15.2, "hi": 21.0},
       {"genotype": "LIMK1-/-", "mean": 18.5, "lo": 15.8, "hi": 21.2}
     ]},
     "encoding": {"x": {"field": "genotype", "type": "nominal", "sort": ["WT", "LIMK1-/-"], "scale": {"paddingInner": 0, "paddingOuter": 0}, "axis": {"title": null, "labels": false, "ticks": false}}},
     "layer": [
       {"mark": {"type": "rule", "color": "#909090"}, "encoding": {"y": {"field": "lo", "type": "quantitative", "title": ["Swim Speed", "(cm/s)"], "scale": {"domain": [0, 25], "nice": false}, "axis": {"values": [0, 10, 20], "tickCount": 20, "titleFontSize": 19, "titleLineHeight": 20}}, "y2": {"field": "hi"}}},
       {"mark": {"type": "tick", "size": 5, "thickness": 1, "color": "#909090"}, "encoding": {"y": {"field": "hi", "type": "quantitative", "title": ["Swim Speed", "(cm/s)"]}}},
       {"mark": {"type": "tick", "size": 5, "thickness": 1, "color": "#909090"}, "encoding": {"y": {"field": "lo", "type": "quantitative", "title": ["Swim Speed", "(cm/s)"]}}},
       {"mark": {"type": "bar", "strokeWidth": 1.2, "width": {"band": 0.41}}, "encoding": {"y": {"field": "mean", "type": "quantitative", "title": ["Swim Speed", "(cm/s)"]},
         "fill": {"field": "genotype", "scale": {"domain": ["WT", "LIMK1-/-"], "range": ["#4a4a4a", "transparent"]}, "legend": null},
         "stroke": {"field": "genotype", "scale": {"domain": ["WT", "LIMK1-/-"], "range": ["#4a4a4a", "#c0c0c0"]}, "legend": null}}},
       {"data": {"values": [{"panel": "J"}]}, "mark": {"type": "text", "fontSize": 28, "color": "#404040", "align": "left", "baseline": "alphabetic", "dx": -80}, "encoding": {"x": {"datum": "WT", "type": "nominal", "bandPosition": 0}, "y": {"datum": 31.47, "type": "quantitative"}, "text": {"field": "panel"}}}
     ]},
    {"width": 87, "height": 1, "data": {"values": []}, "mark": "point", "encoding": {}},
    {"width": 153, "height": 91,
     "data": {"values": [
       {"genotype": "WT", "mean": 16.5, "lo": 14.3, "hi": 18.7},
       {"genotype": "LIMK1-/-", "mean": 16.0, "lo": 13.9, "hi": 18.3}
     ]},
     "encoding": {"x": {"field": "genotype", "type": "nominal", "sort": ["WT", "LIMK1-/-"], "scale": {"paddingInner": 0, "paddingOuter": 0}, "axis": {"title": null, "labels": false, "tickBand": "extent"}}},
     "layer": [
       {"mark": {"type": "rule", "color": "#909090"}, "encoding": {"y": {"field": "lo", "type": "quantitative", "title": ["Swim Speed", "(cm/s)"], "scale": {"domain": [0, 25.3], "nice": false}, "axis": {"values": [0, 10, 20], "tickCount": 20, "domain": false, "titleFontSize": 19, "titleLineHeight": 20}}, "y2": {"field": "hi"}}},
       {"data": {"values": [{}]}, "mark": {"type": "rule", "color": "#8c8c8c"}, "encoding": {"x": {"datum": "WT", "type": "nominal", "bandPosition": 0}, "y": {"datum": 0, "type": "quantitative"}, "y2": {"datum": 23.3}}},
       {"mark": {"type": "tick", "size": 5, "thickness": 1, "color": "#909090"}, "encoding": {"y": {"field": "hi", "type": "quantitative", "title": ["Swim Speed", "(cm/s)"]}}},
       {"mark": {"type": "tick", "size": 5, "thickness": 1, "color": "#909090"}, "encoding": {"y": {"field": "lo", "type": "quantitative", "title": ["Swim Speed", "(cm/s)"]}}},
       {"mark": {"type": "bar", "strokeWidth": 1.2, "width": {"band": 0.41}}, "encoding": {"y": {"field": "mean", "type": "quantitative", "title": ["Swim Speed", "(cm/s)"]},
         "fill": {"field": "genotype", "scale": {"domain": ["WT", "LIMK1-/-"], "range": ["#4a4a4a", "transparent"]}, "legend": null},
         "stroke": {"field": "genotype", "scale": {"domain": ["WT", "LIMK1-/-"], "range": ["#4a4a4a", "#c0c0c0"]}, "legend": null}}},
       {"data": {"values": [{"panel": "K"}]}, "mark": {"type": "text", "fontSize": 28, "color": "#404040", "align": "left", "baseline": "alphabetic", "dx": -62}, "encoding": {"x": {"datum": "WT", "type": "nominal", "bandPosition": 0}, "y": {"datum": 30.6, "type": "quantitative"}, "text": {"field": "panel"}}}
     ]}
  ]}
]
}
